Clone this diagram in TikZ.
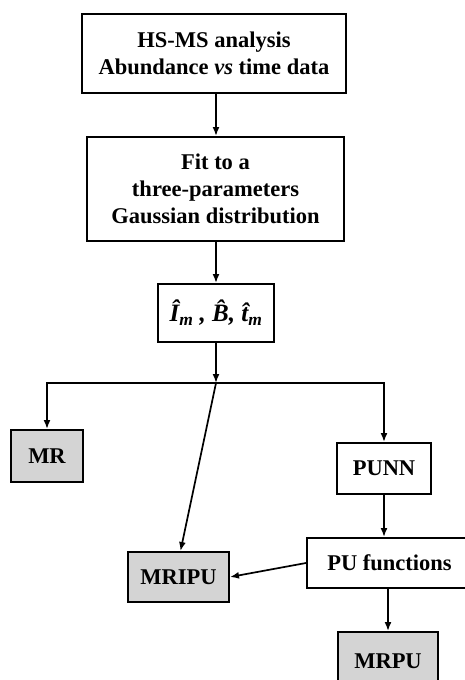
\documentclass[tikz,border=0pt]{standalone}
\usepackage{fontspec}
\setmainfont{Liberation Serif}
\usetikzlibrary{arrows.meta}
\definecolor{boxgray}{RGB}{212,212,212}
\tikzset{
  every node/.style={font=\bfseries\fontsize{22.5}{27}\selectfont, align=center, inner sep=0pt},
  flowbox/.style={draw=black, line width=2pt, fill=white},
  resultbox/.style={draw=black, line width=2pt, fill=boxgray},
  arr/.style={line width=1.7pt, -{Latex[length=9pt,width=7pt]}}
}
\begin{document}
\begin{tikzpicture}[x=1pt,y=-1pt]
  \useasboundingbox (0,0) rectangle (464,680);

  % processing chain
  \node[flowbox, minimum width=264pt, minimum height=79pt] (hsms) at (214,53.5)
    {HS-MS analysis\\Abundance \textit{vs} time data};
  \node[flowbox, minimum width=257pt, minimum height=104pt] (fit) at (215.5,189)
    {Fit to a\\three-parameters\\Gaussian distribution};
  \node[flowbox, minimum width=116pt, minimum height=58pt,
        font=\bfseries\fontsize{25}{30}\selectfont] (par) at (216,313)
    {\itshape\^I\textsubscript{m} , \^B, \^t\textsubscript{m}};

  % models
  \node[resultbox, minimum width=72pt, minimum height=52pt] (mr) at (47,456) {MR};
  \node[flowbox, minimum width=94pt, minimum height=51pt] (punn) at (384,468.5) {PUNN};
  \node[resultbox, minimum width=101pt, minimum height=50pt] (mripu) at (178.5,577) {MRIPU};
  \node[flowbox, minimum width=165pt, minimum height=50pt] (puf) at (389.5,563) {PU functions};
  \node[resultbox, minimum width=100pt, minimum height=70pt] (mrpu) at (388,667) {\raisebox{11pt}{MRPU}};

  \coordinate (j) at (216,383);

  % connectors
  \draw[arr] (par.north |- hsms.south) -- (par.north |- fit.north);
  \draw[arr] (par.north |- fit.south) -- (par.north);
  \draw[arr] (par.south) -- (j);
  \draw[arr] (j) -| (mr.north);
  \draw[arr] (j) -| (punn.north);
  \draw[arr] (j) -- ([xshift=2pt]mripu.north);
  \draw[arr] (punn.south) -- (punn.south |- puf.north);
  \draw[arr] (puf.west) -- (mripu.east);
  \draw[arr] (mrpu.north |- puf.south) -- (mrpu.north);
\end{tikzpicture}
\end{document}
